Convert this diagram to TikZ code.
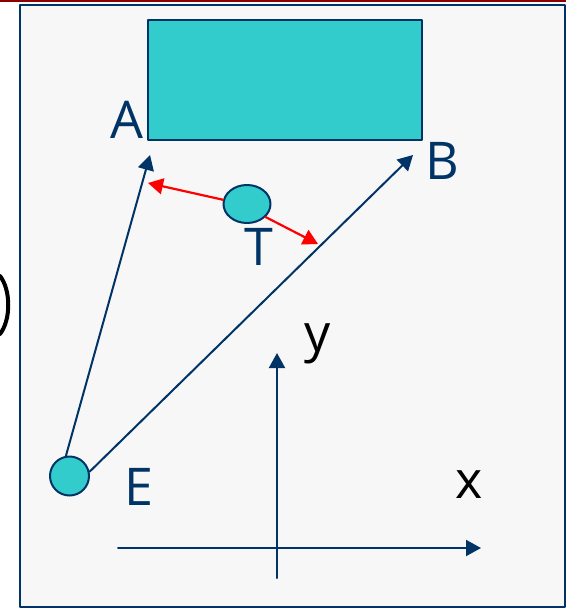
\documentclass[tikz,border=0pt]{standalone}
\usepackage{fontspec}
\setmainfont{Open Sans}
\usetikzlibrary{arrows.meta,shapes.geometric}

\definecolor{navy}{HTML}{003366}
\definecolor{turq}{HTML}{33CCCC}
\definecolor{paper}{HTML}{F7F7F7}
\definecolor{darkred}{HTML}{8B0000}

\begin{document}
\begin{tikzpicture}[x=0.5pt,y=-0.5pt,line cap=round,line join=round,
  vec/.style={draw=navy,line width=1pt,-{Triangle[length=7.5pt,width=8pt]}},
  redvec/.style={draw=red,line width=1.1pt,-{Triangle[length=7.5pt,width=8pt]}},
  lbl/.style={anchor=base,inner sep=0pt,font=\fontsize{26}{26}\selectfont,text=navy},
  body/.style={draw=navy,line width=1pt,fill=turq,inner sep=0pt}]

\useasboundingbox (0,0) rectangle (566,609);

%---------------------------
% moldura
%---------------------------
\fill[darkred] (0,0) rectangle (566,2.5);
\draw[navy,line width=1.3pt,fill=paper] (20,5) rectangle (565,607);
\draw[black,line width=2pt] (0,276) .. controls (11,290) and (11,320) .. (0,334);

%---------------------------
% alvo, T e E
%---------------------------
\node[body,rectangle,minimum width=137pt,minimum height=60pt] (target) at (285,80) {};
\node[body,ellipse,minimum width=23.5pt,minimum height=19pt] (T) at (247,204) {};
\node[body,circle,minimum size=19.5pt] (E) at (69.5,476) {};

\coordinate (tipA) at (150,155);
\coordinate (tipB) at (413,155);
\coordinate (redL) at (148,183);
\coordinate (redR) at (318,244);

%---------------------------
% vetores
%---------------------------
\draw[vec] (E.100) -- (tipA);
\draw[vec] (E.12) -- (tipB);
\draw[redvec] (T.170) -- (redL);
\draw[redvec] (T.-35) -- (redR);

%---------------------------
% eixos
%---------------------------
\coordinate (xl) at (118,548);
\coordinate (xr) at (481,548);
\coordinate (yb) at (277,578);
\coordinate (yt) at (277,353);
\draw[vec] (xl) -- (xr);
\draw[vec] (yb) -- (yt);

%---------------------------
% rótulos
%---------------------------
\node[lbl] (labA) at (127,139) {A};
\node[lbl] (labB) at (442,180) {B};
\node[lbl] (labT) at (259,265) {T};
\node[lbl] (labE) at (139,505) {E};
\node[lbl,text=black] (laby) at (318,351) {y};
\node[lbl,text=black] (labx) at (469,498) {x};

\end{tikzpicture}
\end{document}
